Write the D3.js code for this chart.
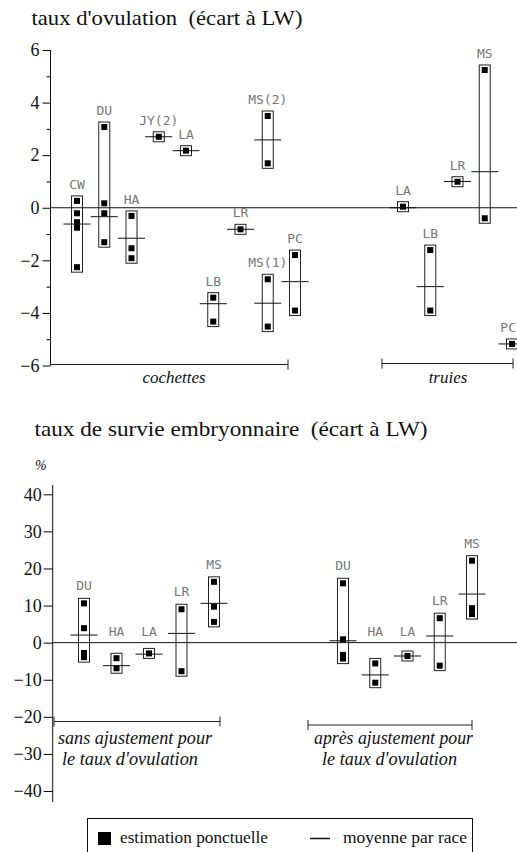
<!DOCTYPE html>
<html><head><meta charset="utf-8">
<script src="https://cdn.jsdelivr.net/npm/d3@7"></script>
<style>body{margin:0;background:#fff} svg{display:block}</style>
</head><body><svg id="c" width="517" height="852"></svg>
<script>
// ---------------- data ----------------
const topTitle = "taux d'ovulation  (écart à LW)";
const bottomTitle = "taux de survie embryonnaire  (écart à LW)";
const topTicks = [-6, -4, -2, 0, 2, 4, 6];
const topMinorTicks = [-5, -3, -1, 1, 3, 5];
const bottomTicks = [-40, -30, -20, -10, 0, 10, 20, 30, 40];
const bottomUnit = "%";

const cochettesBreeds = ["CW", "DU", "HA", "JY", "LA", "LB", "LR", "MS", "PC"];
const cochettesLabels = ["CW", "DU", "HA", "JY(2)", "LA", "LB", "LR", "MS(1)", "MS(2)", "PC"];
const cochettesColumn = ["CW", "DU", "HA", "JY", "LA", "LB", "LR", "MS", "MS", "PC"];
const cochettesPoints = [
  [0.26, -0.21, -0.55, -0.76, -2.26],
  [3.07, 0.17, -0.21, -1.31],
  [-0.31, -1.54, -1.92],
  [2.70],
  [2.17],
  [-3.42, -4.33],
  [-0.82],
  [-2.72, -4.52],
  [3.49, 1.69],
  [-1.80, -3.91]
];
const cochettesMeans = [-0.62, -0.34, -1.16, 2.70, 2.17, -3.65, -0.82, -3.63, 2.58, -2.81];

const truiesBreeds = ["LA", "LB", "LR", "MS", "PC"];
const truiesPoints = [[0.04], [-1.61, -3.91], [0.99], [5.24, -0.40], [-5.18]];
const truiesMeans = [0.0, -3.0, 1.0, 1.37, -5.18];

const survieBreeds = ["DU", "HA", "LA", "LR", "MS"];
const sansPoints = [[10.6, 3.9, -2.8, -3.9], [-4.2, -6.9], [-2.9], [9.0, -7.7], [16.4, 9.7, 5.6]];
const sansMeans = [2.05, -6.2, -3.1, 2.5, 10.6];
const apresPoints = [[16.0, 0.9, -3.3, -4.3], [-5.6, -10.8], [-3.6], [6.6, -6.2], [22.1, 9.3, 7.7]];
const apresMeans = [0.5, -8.7, -3.6, 1.8, 13.1];

const groupNames = ["cochettes", "truies"];
const adjustNames = [["sans ajustement pour", "le taux d'ovulation"], ["après ajustement pour", "le taux d'ovulation"]];
const legendLabels = ["estimation ponctuelle", "moyenne par race"];

// ---------------- drawing ----------------
const svg = d3.select("#c");
const W = 517;
const serif = "'Liberation Serif', 'Times New Roman', serif";
const mono = "'DejaVu Sans Mono', monospace";

function text(g, x, y, s, size, opts = {}) {
  const t = g.append("text").attr("x", x).attr("y", y).text(s)
    .attr("font-family", opts.family || serif).attr("font-size", size)
    .attr("fill", opts.fill || "#111")
    .style("white-space", "pre");
  if (opts.anchor) t.attr("text-anchor", opts.anchor);
  if (opts.italic) t.attr("font-style", "italic");
  if (opts.len) t.attr("textLength", opts.len).attr("lengthAdjust", "spacingAndGlyphs");
  return t;
}

function drawGroups(g, x, y, cols, labels, pts, means, labelY) {
  cols.forEach((c, i) => {
    const cx = x(c);
    const ys = pts[i].map(y);
    const top = d3.min(ys) - 5, bot = d3.max(ys) + 5;
    g.append("rect").attr("x", cx - 5.5).attr("y", top).attr("width", 11).attr("height", bot - top)
      .attr("fill", "none").attr("stroke", "#222").attr("stroke-width", 1);
    g.selectAll(null).data(pts[i]).enter().append("rect")
      .attr("x", cx - 3).attr("y", d => y(d) - 3).attr("width", 6).attr("height", 6).attr("fill", "#000");
    g.append("line").attr("x1", cx - 13.5).attr("x2", cx + 13.5)
      .attr("y1", y(means[i])).attr("y2", y(means[i])).attr("stroke", "#111").attr("stroke-width", 1);
    const t = text(g, cx, labelY(top), labels[i], 13, {family: mono, fill: "#777", anchor: "middle"});
    const w = t.node().getComputedTextLength();
    if (cx + w / 2 > W - 1) t.attr("x", W - 1 - w / 2);
  });
}

function bracket(g, x1, x2, y, leftTick, rightTick) {
  g.append("line").attr("x1", x1).attr("x2", x2).attr("y1", y).attr("y2", y).attr("stroke", "#222");
  if (leftTick) g.append("line").attr("x1", x1).attr("x2", x1).attr("y1", y - 5).attr("y2", y + 5).attr("stroke", "#222");
  if (rightTick) g.append("line").attr("x1", x2).attr("x2", x2).attr("y1", y - 5).attr("y2", y + 5).attr("stroke", "#222");
}

// ----- top chart -----
const gt = svg.append("g");
const yT = d3.scaleLinear().domain([-6, 6]).range([365.5, 50]);
const axT = 50.5;
text(gt, 31.5, 25, topTitle, 21, {len: 271});

const axisT = d3.axisLeft(yT).tickValues(topTicks).tickSize(8).tickPadding(3).tickSizeOuter(0);
const aT = gt.append("g").attr("transform", `translate(${axT},0)`).call(axisT);
aT.select(".domain").remove();
aT.selectAll("text").attr("font-family", serif).attr("font-size", 18).attr("fill", "#111");
const axisTm = d3.axisLeft(yT).tickValues(topMinorTicks).tickSize(4).tickFormat("").tickSizeOuter(0);
const aTm = gt.append("g").attr("transform", `translate(${axT},0)`).call(axisTm);
aTm.select(".domain").remove();
gt.append("line").attr("x1", axT).attr("x2", axT).attr("y1", yT(6)).attr("y2", yT(-6)).attr("stroke", "#111");
gt.append("line").attr("x1", axT).attr("x2", W).attr("y1", yT(0)).attr("y2", yT(0)).attr("stroke", "#111");

const xC = d3.scalePoint().domain(cochettesBreeds).range([77, 295]);
const xTr = d3.scalePoint().domain(truiesBreeds).range([403, 512]);
drawGroups(gt, xC, yT, cochettesColumn, cochettesLabels, cochettesPoints, cochettesMeans, top => top - 7);
drawGroups(gt, xTr, yT, truiesBreeds, truiesBreeds, truiesPoints, truiesMeans, top => top - 7);

bracket(gt, axT, 288, yT(-6) - 1, false, true);
bracket(gt, 382, 513, yT(-6) - 2, true, true);
text(gt, 174, 383, groupNames[0], 17, {italic: true, anchor: "middle"});
text(gt, 448, 383, groupNames[1], 17, {italic: true, anchor: "middle"});

// ----- bottom chart -----
const gb = svg.append("g");
const yB = d3.scaleLinear().domain([-40, 40]).range([791, 494.3]);
const axB = 52.7;
text(gb, 34.5, 436, bottomTitle, 21, {len: 393});
text(gb, 35, 470, bottomUnit, 14, {italic: true});

const axisB = d3.axisLeft(yB).tickValues(bottomTicks).tickSize(9).tickPadding(2).tickSizeOuter(0);
const aB = gb.append("g").attr("transform", `translate(${axB},0)`).call(axisB);
aB.select(".domain").remove();
aB.selectAll("text").attr("font-family", serif).attr("font-size", 18).attr("fill", "#111");
gb.append("line").attr("x1", axB).attr("x2", axB).attr("y1", yB(42.5)).attr("y2", yB(-43)).attr("stroke", "#111");
gb.append("line").attr("x1", axB).attr("x2", W).attr("y1", yB(0)).attr("y2", yB(0)).attr("stroke", "#111");

const xS = d3.scalePoint().domain(survieBreeds).range([84, 214]);
const xA = d3.scalePoint().domain(survieBreeds).range([343, 472]);
const labB = top => Math.min(top - 8, yB(0) - 7);
drawGroups(gb, xS, yB, survieBreeds, survieBreeds, sansPoints, sansMeans, labB);
drawGroups(gb, xA, yB, survieBreeds, survieBreeds, apresPoints, apresMeans, labB);

bracket(gb, 54, 220, 721.5, true, true);
bracket(gb, 308, 472, 725, true, true);
text(gb, 58, 744, adjustNames[0][0], 18, {italic: true, len: 154});
text(gb, 62, 765, adjustNames[0][1], 18, {italic: true, len: 136});
text(gb, 314, 744, adjustNames[1][0], 18, {italic: true, len: 159});
text(gb, 322, 765, adjustNames[1][1], 18, {italic: true, len: 135});

// ----- legend -----
const gl = svg.append("g");
gl.append("rect").attr("x", 87.5).attr("y", 818.5).attr("width", 385).attr("height", 40)
  .attr("fill", "none").attr("stroke", "#111");
gl.append("rect").attr("x", 98).attr("y", 832).attr("width", 13).attr("height", 13).attr("fill", "#000");
text(gl, 120, 843, legendLabels[0], 17, {len: 148});
gl.append("line").attr("x1", 310).attr("x2", 330).attr("y1", 838.5).attr("y2", 838.5).attr("stroke", "#111").attr("stroke-width", 1.5);
text(gl, 343, 843, legendLabels[1], 17, {len: 124});
</script></body></html>
